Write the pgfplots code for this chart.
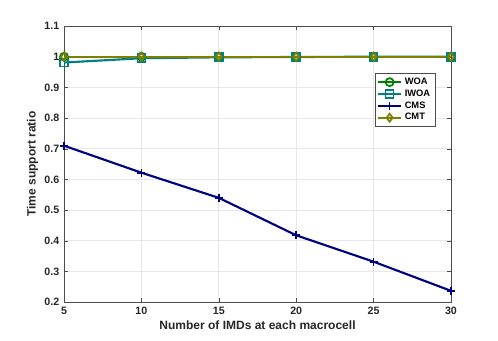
\documentclass[border=0pt]{standalone}
\usepackage{fontspec}
\setmainfont{Liberation Sans}
\usepackage{pgfplots}
\pgfplotsset{compat=1.18}

\definecolor{woa}{rgb}{0,0.5,0}
\definecolor{iwoa}{rgb}{0,0.5,0.5}
\definecolor{cms}{rgb}{0,0,0.5}
\definecolor{cmt}{rgb}{0.5,0.5,0}
\definecolor{axgray}{rgb}{0.15,0.15,0.15}

\begin{document}
\begin{tikzpicture}
  \begin{axis}[
      width=290pt, height=207pt,
      scale only axis,
      xmin=5, xmax=30,
      ymin=0.2, ymax=1.1,
      xtick={5,10,15,20,25,30},
      ytick={0.2,0.3,0.4,0.5,0.6,0.7,0.8,0.9,1,1.1},
      yticklabel style={/pgf/number format/fixed, /pgf/number format/precision=1},
      /pgf/number format/assume math mode=true,
      tick align=inside,
      tick pos=both,
      major tick length=3pt,
      grid=major,
      grid style={gray!18, line width=0.5pt},
      axis line style={gray!60!black, line width=0.5pt},
      tick style={gray!60!black},
      ticklabel style={font=\bfseries\footnotesize, text=axgray},
      label style={font=\bfseries\small, text=axgray},
      xlabel={Number of IMDs at each macrocell},
      ylabel={Time support ratio},
      xlabel style={yshift=2pt},
      ylabel style={yshift=-2pt},
      legend style={at={(0.959,0.83)}, anchor=north east,
        font=\bfseries\scriptsize, draw=gray!60!black, fill=white,
        row sep=-1.5pt, inner sep=1.5pt},
      legend cell align=left,
      every axis plot/.append style={line width=1.6pt, mark size=3pt},
    ]
    \addplot[woa, mark=o, mark options={line width=1.3pt}] coordinates {
      (5,1) (10,1) (15,1) (20,1) (25,1) (30,1)
    };
    \addplot[iwoa, mark=square, mark options={line width=1.3pt}] coordinates {
      (5,0.981) (10,0.995) (15,0.998) (20,0.999) (25,1) (30,1)
    };
    \addplot[cms, mark=+, mark options={line width=1.3pt}] coordinates {
      (5,0.710) (10,0.622) (15,0.540) (20,0.418) (25,0.332) (30,0.237)
    };
    \addplot[cmt, mark=diamond, mark options={line width=1.3pt}] coordinates {
      (5,1) (10,1) (15,1) (20,1) (25,1) (30,1)
    };
    \legend{WOA, IWOA, CMS, CMT}
  \end{axis}
  \path (current axis.south west) ++(-48pt,-28.5pt) coordinate (bbsw);
  \path (current axis.north east) ++(35.25pt,19.5pt) coordinate (bbne);
  \useasboundingbox (bbsw) rectangle (bbne);
\end{tikzpicture}
\end{document}
